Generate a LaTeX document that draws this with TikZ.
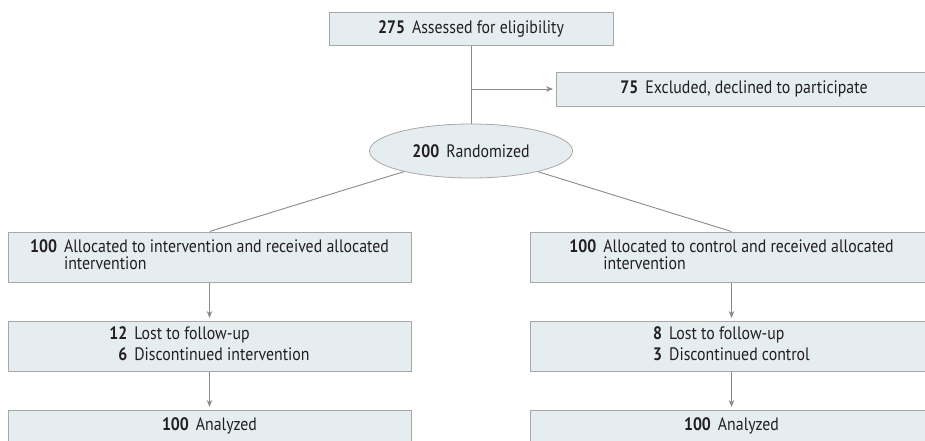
\documentclass[tikz,border=0pt]{standalone}
\usepackage{fontspec}
\setmainfont{PT Sans}[FakeStretch=0.88]
\usetikzlibrary{shapes.geometric,arrows.meta}
\definecolor{boxfill}{HTML}{E6EDF1}
\definecolor{boxline}{HTML}{A8A8A8}
\definecolor{conn}{HTML}{8A8A8A}
\definecolor{txt}{HTML}{231F20}
\tikzset{
  box/.style={draw=boxline, fill=boxfill, line width=1pt, rectangle, inner sep=0pt, align=center, text=txt},
  oval/.style={draw=boxline, fill=boxfill, line width=0.8pt, ellipse, inner sep=0pt, text=txt},
  link/.style={draw=conn, line width=0.9pt},
  arr/.style={link, -{Stealth[length=7pt,width=5.5pt]}, shorten >=2.5pt}
}
\newcommand{\numgap}{\hspace{7pt}}
\begin{document}
\begin{tikzpicture}[x=1pt,y=-1pt]
\fontsize{18}{19}\selectfont
\useasboundingbox (0,0) rectangle (925,440);
\clip (0,0) rectangle (925,440);
\node[box, minimum width=284pt, minimum height=33pt] (top) at (471,28.5) {\textbf{275}\numgap Assessed for eligibility};
\node[box, minimum width=376pt, minimum height=34pt] (excl) at (744,89) {\textbf{75}\numgap Excluded, declined to participate};
\node[oval, minimum width=203pt, minimum height=54pt] (rand) at (471,151) {\textbf{200}\numgap Randomized};
\node[box, minimum width=403pt, minimum height=50pt] (a1) at (209.5,257) {\begin{tabular}{@{}r@{\numgap}l@{}}\textbf{100} & Allocated to intervention and received allocated\\[-1.5pt] & intervention\end{tabular}};
\node[box, minimum width=403pt, minimum height=50pt] (a2) at (731.5,257) {\begin{tabular}{@{}r@{\numgap}l@{}}\textbf{100} & Allocated to control and received allocated\\[-1.5pt] & intervention\end{tabular}};
\node[box, minimum width=403pt, minimum height=50pt] (l1) at (209.5,346) {\begin{tabular}{@{}r@{\numgap}l@{}}\textbf{12} & Lost to follow-up\\[2pt] \textbf{6} & Discontinued intervention\end{tabular}};
\node[box, minimum width=403pt, minimum height=50pt] (l2) at (731.5,346) {\begin{tabular}{@{}r@{\numgap}l@{}}\textbf{8} & Lost to follow-up\\[2pt] \textbf{3} & Discontinued control\end{tabular}};
\node[box, minimum width=403pt, minimum height=32pt] (n1) at (209.5,426) {\textbf{100}\numgap Analyzed};
\node[box, minimum width=403pt, minimum height=32pt] (n2) at (731.5,426) {\textbf{100}\numgap Analyzed};
\coordinate (br) at (471,89);
\draw[link] (top.south) -- (rand.north);
\draw[arr] (br) -- (excl.west);
\draw[link] (rand) -- (a1.north);
\draw[link] (rand) -- (a2.north);
\draw[arr] (a1) -- (l1);
\draw[arr] (a2) -- (l2);
\draw[arr] (l1) -- (n1);
\draw[arr] (l2) -- (n2);
\end{tikzpicture}
\end{document}
